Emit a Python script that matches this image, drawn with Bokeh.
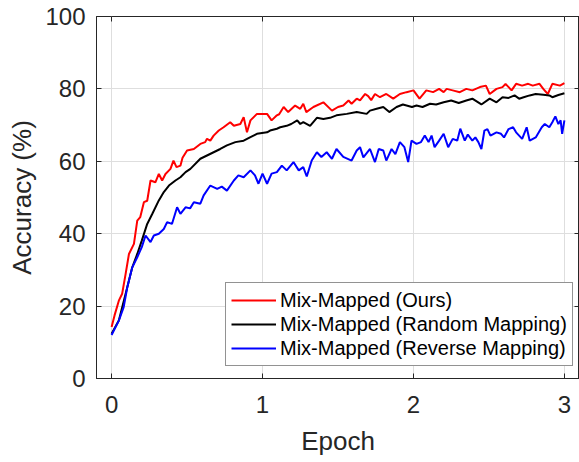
from bokeh.plotting import figure
from bokeh.models import LinearAxis, FixedTicker, Legend, LegendItem, Range1d
from bokeh.embed import file_html
from bokeh.resources import INLINE

# ---- data ----
red_epoch = [0.0, 0.02, 0.048, 0.07, 0.093, 0.115, 0.148, 0.17, 0.19, 0.214, 0.236, 0.258, 0.29,
             0.313, 0.335, 0.357, 0.39, 0.41, 0.43, 0.456, 0.47, 0.5, 0.545, 0.588, 0.62, 0.632,
             0.654, 0.676, 0.71, 0.742, 0.786, 0.81, 0.853, 0.875, 0.897, 0.92, 0.963, 1.03, 1.06,
             1.095, 1.11, 1.14, 1.17, 1.216, 1.25, 1.27, 1.29, 1.337, 1.403, 1.46, 1.5, 1.535,
             1.57, 1.59, 1.624, 1.646, 1.68, 1.70, 1.72, 1.745, 1.778, 1.82, 1.866, 1.91, 1.954,
             2.0, 2.04, 2.085, 2.13, 2.17, 2.2, 2.22, 2.26, 2.307, 2.35, 2.39, 2.44, 2.48, 2.505,
             2.55, 2.59, 2.61, 2.65, 2.68, 2.72, 2.76, 2.79, 2.835, 2.86, 2.89, 2.92, 2.97, 3.0]
red_acc = [14.2, 17.5, 21.5, 23.4, 28.9, 34.4, 37.2, 43.6, 44.6, 48.7, 49.1, 54.7, 54.2,
           56.5, 54.7, 56.5, 57.9, 60.2, 58.4, 58.8, 61.0, 63.0, 63.4, 64.8, 65.3, 66.2,
           65.7, 67.1, 68.5, 69.4, 70.8, 69.8, 70.3, 72.2, 68.0, 71.3, 73.1, 73.1, 71.3,
           72.7, 73.0, 75.0, 73.6, 75.4, 74.5, 75.9, 73.6, 75.0, 76.3, 74.0, 75.0, 75.4,
           76.8, 75.9, 77.3, 76.8, 78.6, 78.0, 76.9, 78.6, 77.7, 78.6, 77.3, 78.6, 79.1,
           79.6, 77.3, 79.6, 79.1, 80.0, 79.1, 80.0, 79.6, 79.1, 80.0, 79.6, 80.5, 80.9, 78.6,
           80.0, 80.5, 81.4, 79.6, 81.4, 80.9, 81.4, 80.9, 81.4, 80.0, 78.6, 81.4, 80.9, 81.6]

black_epoch = [0.0, 0.048, 0.093, 0.137, 0.17, 0.2, 0.236, 0.27, 0.313, 0.346, 0.38, 0.423,
               0.456, 0.49, 0.522, 0.588, 0.632, 0.676, 0.72, 0.764, 0.82, 0.875, 0.92, 0.963,
               1.03, 1.05, 1.095, 1.117, 1.16, 1.19, 1.23, 1.25, 1.27, 1.315, 1.36, 1.403, 1.447,
               1.49, 1.558, 1.624, 1.69, 1.712, 1.756, 1.8, 1.84, 1.888, 1.93, 1.99, 2.02, 2.06,
               2.11, 2.15, 2.2, 2.25, 2.3, 2.35, 2.39, 2.45, 2.505, 2.55, 2.59, 2.63, 2.67, 2.7,
               2.73, 2.77, 2.81, 2.86, 2.9, 2.92, 2.96, 3.0]
black_acc = [12.4, 16.0, 23.4, 30.7, 34.4, 38.1, 42.7, 45.5, 49.2, 51.5, 53.3, 54.7,
             55.6, 57.0, 57.9, 60.7, 61.6, 62.5, 63.4, 64.4, 65.3, 65.7, 66.7, 67.6,
             68.0, 68.5, 69.0, 69.4, 69.8, 70.3, 71.3, 70.3, 70.8, 69.8, 72.0, 71.7, 72.0,
             72.7, 73.1, 73.6, 73.1, 74.0, 74.5, 75.0, 73.6, 75.0, 75.7, 75.0, 75.4, 75.0,
             75.9, 75.7, 76.3, 76.8, 76.1, 76.8, 77.3, 75.7, 77.3, 76.3, 77.7, 77.5, 78.2, 77.3,
             77.7, 78.2, 78.6, 78.4, 78.2, 77.7, 78.3, 78.8]

blue_epoch = [0.0, 0.048, 0.08, 0.104, 0.137, 0.17, 0.2, 0.225, 0.258, 0.28, 0.313, 0.346,
              0.368, 0.4, 0.434, 0.456, 0.49, 0.52, 0.545, 0.588, 0.61, 0.654, 0.7, 0.73, 0.764,
              0.81, 0.84, 0.875, 0.92, 0.95, 0.973, 1.0, 1.03, 1.06, 1.095, 1.128, 1.16, 1.205,
              1.24, 1.27, 1.293, 1.326, 1.36, 1.39, 1.425, 1.46, 1.49, 1.535, 1.59, 1.624, 1.646,
              1.668, 1.712, 1.745, 1.77, 1.8, 1.82, 1.855, 1.88, 1.91, 1.94, 1.965, 1.987, 2.02,
              2.05, 2.075, 2.1, 2.12, 2.14, 2.17, 2.2, 2.23, 2.26, 2.29, 2.31, 2.34, 2.36, 2.39,
              2.41, 2.43, 2.45, 2.47, 2.49, 2.51, 2.55, 2.58, 2.6, 2.63, 2.66, 2.68, 2.72, 2.75,
              2.77, 2.81, 2.85, 2.87, 2.9, 2.92, 2.94, 2.96, 2.975, 2.985, 3.0]
blue_acc = [12.0, 16.0, 19.7, 25.2, 30.7, 33.5, 36.3, 39.5, 37.7, 39.5, 40.0, 41.3,
            43.2, 42.7, 47.3, 45.5, 47.3, 47.0, 48.7, 48.3, 50.6, 53.3, 52.4, 53.0, 51.9,
            54.7, 56.1, 55.6, 57.5, 56.1, 53.8, 56.6, 53.8, 56.6, 57.0, 58.8, 57.5, 59.8,
            57.5, 58.4, 55.8, 60.2, 62.5, 61.2, 62.5, 60.7, 63.4, 61.2, 60.2, 63.0, 63.9,
            61.1, 63.4, 59.8, 63.4, 63.0, 60.2, 63.4, 62.0, 65.3, 63.9, 59.8, 65.7, 64.8,
            65.3, 67.1, 65.3, 67.1, 63.9, 65.7, 67.6, 63.9, 66.2, 65.7, 69.0, 65.7, 67.4, 65.7,
            66.6, 65.3, 63.4, 68.5, 68.9, 67.1, 68.0, 67.6, 66.6, 68.9, 69.4, 68.0, 66.2, 69.4,
            65.7, 66.6, 69.4, 70.3, 69.4, 70.8, 72.4, 70.3, 71.3, 67.6, 71.3]

labels = ["Mix-Mapped (Ours)", "Mix-Mapped (Random Mapping)", "Mix-Mapped (Reverse Mapping)"]
colors = ["#ff0000", "#000000", "#0000ff"]
x_ticks = [0, 1, 2, 3]
y_ticks = [0, 20, 40, 60, 80, 100]

FONT = "Liberation Sans"
AX = "#262626"

p = figure(width=579, height=462, output_backend="svg", toolbar_location=None,
           x_range=Range1d(-0.1, 3.1), y_range=Range1d(0, 100),
           min_border_left=96, min_border_right=0, min_border_top=16, min_border_bottom=84,
           background_fill_color="white", border_fill_color="white",
           outline_line_color=AX, outline_line_width=1)

r1 = p.line(red_epoch, red_acc, line_color=colors[0], line_width=2)
r2 = p.line(black_epoch, black_acc, line_color=colors[1], line_width=2)
r3 = p.line(blue_epoch, blue_acc, line_color=colors[2], line_width=2)

for ax in (p.xaxis[0], p.yaxis[0]):
    ax.axis_line_color = AX
    ax.major_tick_line_color = AX
    ax.major_tick_in = 5
    ax.major_tick_out = 0
    ax.minor_tick_line_color = None
    ax.major_label_text_font = FONT
    ax.major_label_text_font_size = "24px"
    ax.major_label_text_color = AX
    ax.axis_label_text_font = FONT
    ax.axis_label_text_font_size = "26px"
    ax.axis_label_text_font_style = "normal"
    ax.axis_label_text_color = AX

p.xaxis[0].ticker = FixedTicker(ticks=x_ticks)
p.yaxis[0].ticker = FixedTicker(ticks=y_ticks)
p.xaxis[0].axis_label = "Epoch"
p.yaxis[0].axis_label = "Accuracy (%)"
p.xaxis[0].major_label_standoff = 17
p.yaxis[0].major_label_standoff = 11
p.xaxis[0].axis_label_standoff = 10
p.yaxis[0].axis_label_standoff = 5

for loc, ticks in (("above", x_ticks), ("right", y_ticks)):
    a = LinearAxis(ticker=FixedTicker(ticks=ticks), axis_line_color=None,
                   major_tick_line_color=AX, major_tick_in=5, major_tick_out=0,
                   minor_tick_line_color=None, major_label_text_color=None,
                   major_label_text_font_size="1px", major_label_standoff=0)
    p.add_layout(a, loc)

p.xgrid.ticker = FixedTicker(ticks=x_ticks)
p.ygrid.ticker = FixedTicker(ticks=y_ticks)
p.grid.grid_line_color = "#dedede"
p.grid.grid_line_width = 1

legend = Legend(items=[LegendItem(label=labels[0], renderers=[r1]),
                       LegendItem(label=labels[1], renderers=[r2]),
                       LegendItem(label=labels[2], renderers=[r3])],
                location=(129, 12), orientation="vertical",
                label_text_font=FONT, label_text_font_size="20px", label_text_color="#000000",
                glyph_width=45, glyph_height=24, label_height=24, label_standoff=4,
                spacing=0, padding=5, margin=0,
                border_line_color=AX, border_line_width=1,
                background_fill_color="white", background_fill_alpha=1.0)
p.add_layout(legend, "center")

open("out.html", "w").write(file_html(p, INLINE))
